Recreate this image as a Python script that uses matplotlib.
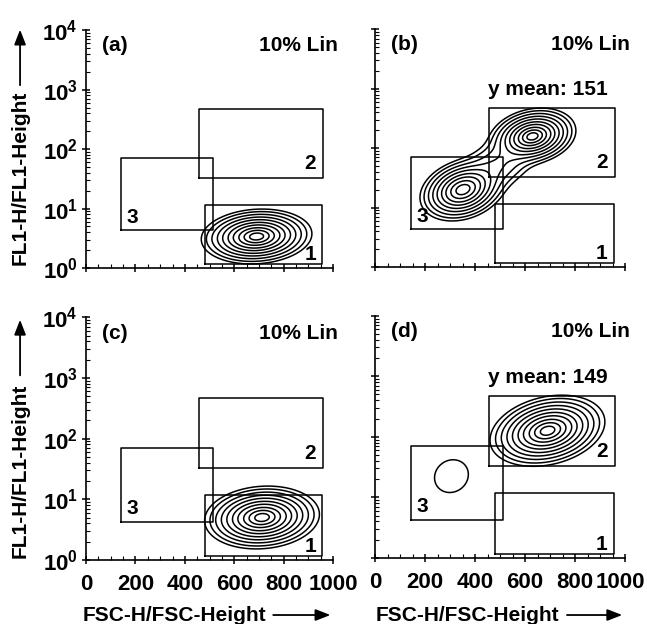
import numpy as np
import matplotlib.pyplot as plt
from matplotlib.transforms import ScaledTranslation
from matplotlib.ticker import FixedLocator, FixedFormatter, MultipleLocator, LogLocator, NullFormatter

plt.rcParams['font.family'] = ['Liberation Sans', 'DejaVu Sans']
plt.rcParams['font.weight'] = 'bold'
plt.rcParams['mathtext.fontset'] = 'custom'
plt.rcParams['mathtext.rm'] = 'Liberation Sans'
plt.rcParams['mathtext.bf'] = 'Liberation Sans:bold'

# panel labels / annotations
panel_tags = ['(a)', '(b)', '(c)', '(d)']
lin_text = '10% Lin'
mean_text = [None, 'y mean: 151', None, 'y mean: 149']
x_ticks = [0, 200, 400, 600, 800, 1000]
y_ticks = [1, 10, 100, 1000, 10000]
y_ticklabels = [r'$\mathbf{10^{0}}$', r'$\mathbf{10^{1}}$', r'$\mathbf{10^{2}}$',
                r'$\mathbf{10^{3}}$', r'$\mathbf{10^{4}}$']

# gates: (x0, x1, y0, y1), y in FL1 units
gate_names = ['1', '2', '3']
gate_x0 = [480, 455, 142]
gate_x1 = [955, 958, 512]
gate_y0 = [1.15, 33, 4.3]
gate_y1 = [11.7, 470, 70]

# cell populations per panel (x centre, log10 y centre, sd x, sd log10 y, corr, peak height)
pop_cx = [[690], [630, 350, 490], [712], [690, 305]]
pop_cy = [[0.53], [2.2, 1.3, 1.72], [0.70], [2.10, 1.35]]
pop_sx = [[80], [62, 62, 70], [83], [82, 75]]
pop_sy = [[0.165], [0.17, 0.19, 0.22], [0.185], [0.21, 0.3]]
pop_rho = [[0.1], [0.2, 0.25, 0.4], [0.1], [0.25, 0.1]]
pop_w = [[1.0], [1.0, 0.9, 0.14], [1.0], [1.0, 0.03]]

contour_levels = [0.02, 0.04, 0.078, 0.14, 0.23, 0.355, 0.5, 0.67, 0.82, 0.94]

fig = plt.figure(figsize=(6.47, 6.24), dpi=100)
positions = [[0.133, 0.5705, 0.382, 0.381],
             [0.580, 0.572, 0.386, 0.381],
             [0.133, 0.1026, 0.382, 0.389],
             [0.580, 0.106, 0.386, 0.388]]

gx = np.linspace(0, 1000, 400)
gly = np.linspace(0, 4, 400)
X, LY = np.meshgrid(gx, gly)

for i in range(4):
    ax = fig.add_axes(positions[i])
    ax.set_yscale('log')
    ax.set_xlim(0, 1000)
    ax.set_ylim(1, 1e4)
    for s in ['top', 'right']:
        ax.spines[s].set_visible(False)
    ax.spines['left'].set_linewidth(1.2)
    ax.spines['bottom'].set_linewidth(1.2)

    # density of the populations
    Z = np.zeros_like(X)
    for cx, cy, sx, sy, r, w in zip(pop_cx[i], pop_cy[i], pop_sx[i], pop_sy[i],
                                    pop_rho[i], pop_w[i]):
        dx = (X - cx) / sx
        dy = (LY - cy) / sy
        q = (dx**2 - 2 * r * dx * dy + dy**2) / (1 - r**2)
        Z += w * np.exp(-0.5 * q)
    Z = Z / Z.max()
    ax.contour(X, 10**LY, Z, levels=contour_levels, colors='black', linewidths=1.1)

    # gates
    for name, x0, x1, y0, y1 in zip(gate_names, gate_x0, gate_x1, gate_y0, gate_y1):
        ax.plot([x0, x1, x1, x0, x0], [y0, y0, y1, y1, y0], color='black', lw=1.1)
    ax.text(930, 10**0.22, '1', fontsize=15, ha='right', va='center')
    ax.text(930, 10**1.76, '2', fontsize=15, ha='right', va='center')
    ax.text(165, 10**0.85, '3', fontsize=15, ha='left', va='center')

    ax.text(65, 10**3.74, panel_tags[i], fontsize=15, ha='left', va='center')
    ax.text(1020, 10**3.74, lin_text, fontsize=15, ha='right', va='center')
    if mean_text[i]:
        ax.text(692, 10**2.98, mean_text[i], fontsize=15, ha='center', va='center')

    # ticks
    ax.xaxis.set_major_locator(FixedLocator(x_ticks))
    ax.xaxis.set_minor_locator(MultipleLocator(50))
    ax.yaxis.set_major_locator(FixedLocator(y_ticks))
    ax.yaxis.set_major_formatter(FixedFormatter(y_ticklabels))
    ax.yaxis.set_minor_locator(LogLocator(base=10, subs=np.arange(2, 10), numticks=10))
    ax.yaxis.set_minor_formatter(NullFormatter())
    ax.tick_params(which='major', direction='inout', length=6, width=1.1, labelsize=16)
    ax.tick_params(axis='x', which='major', pad=7)
    ax.tick_params(axis='y', which='major', pad=3)
    ax.tick_params(which='minor', direction='in', length=3, width=0.8)
    if i in (1, 3):
        ax.tick_params(axis='y', labelleft=False)
    if i in (0, 1):
        ax.tick_params(axis='x', labelbottom=False)
    if i == 3:
        # keep the last label inside the page
        lbl = ax.xaxis.get_major_ticks()[-1].label1
        lbl.set_transform(lbl.get_transform()
                          + ScaledTranslation(-3 / 72, 0, fig.dpi_scale_trans))

# axis titles with arrows
arrow = dict(arrowstyle='-|>,head_length=0.9,head_width=0.35', color='black', lw=1.3)
for ybot, ytop in [(0.576, 0.957), (0.106, 0.492)]:
    fig.text(0.031, ybot, 'FL1-H/FL1-Height', rotation=90, fontsize=15,
             ha='center', va='bottom')
    fig.gca().annotate('', xy=(0.031, ytop), xycoords='figure fraction',
                       xytext=(0.031, ytop - 0.098), textcoords='figure fraction',
                       arrowprops=arrow)
for xl, xa0, xa1 in [(0.128, 0.418, 0.515), (0.58, 0.872, 0.966)]:
    fig.text(xl, 0.0144, 'FSC-H/FSC-Height', fontsize=15, ha='left', va='center')
    fig.gca().annotate('', xy=(xa1, 0.0144), xycoords='figure fraction',
                       xytext=(xa0, 0.0144), textcoords='figure fraction',
                       arrowprops=arrow)

fig.savefig('out.png', dpi=100)
